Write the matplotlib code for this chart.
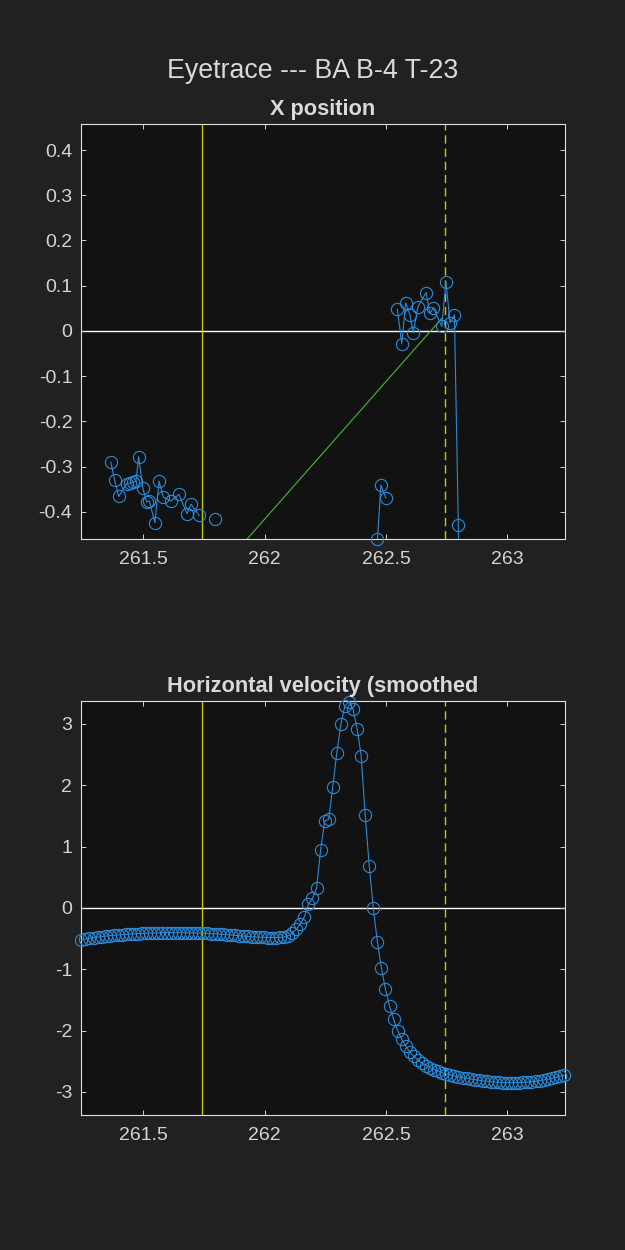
import numpy as np
import matplotlib
matplotlib.use("Agg")
import matplotlib.pyplot as plt

# --- data --------------------------------------------------------------
# X position (raw samples, NaN = gap in the trace)
pos_t = [261.366, 261.382, 261.399, 261.431, 261.445, 261.456, 261.470,
         261.481, 261.498, 261.514, 261.525, 261.548, 261.565, 261.582,
         261.615, 261.647, 261.680, 261.697, 261.730, np.nan, 261.797,
         np.nan, 262.465, 262.479, 262.499, np.nan,
         262.547, 262.565, 262.581, 262.599, 262.612, 262.632, 262.665,
         262.681, 262.695, 262.730, 262.747, 262.764, 262.782, 262.798,
         262.815]
pos_x = [-0.290, -0.329, -0.366, -0.338, -0.336, -0.335, -0.332,
         -0.278, -0.347, -0.378, -0.376, -0.424, -0.332, -0.367,
         -0.376, -0.361, -0.404, -0.383, -0.408, np.nan, -0.415,
         np.nan, -0.460, -0.341, -0.369, np.nan,
         0.048, -0.028, 0.062, 0.035, -0.005, 0.054, 0.085,
         0.039, 0.051, 0.010, 0.109, 0.018, 0.035, -0.428,
         -1.10]

# green fit line (two end points)
fit_t = [261.90, 262.730]
fit_x = [-0.477, 0.028]

# smoothed horizontal velocity, 60 Hz samples
vel = [-0.520, -0.505, -0.493, -0.483, -0.474, -0.466, -0.459, -0.452,
       -0.446, -0.440, -0.435, -0.430, -0.425, -0.421, -0.417, -0.414,
       -0.411, -0.409, -0.407, -0.405, -0.404, -0.403, -0.403, -0.403,
       -0.403, -0.404, -0.405, -0.406, -0.408, -0.410, -0.412, -0.415,
       -0.418, -0.422, -0.426, -0.431, -0.436, -0.441, -0.447, -0.453,
       -0.458, -0.463, -0.468, -0.472, -0.476, -0.479, -0.481, -0.482,
       -0.482, -0.480, -0.473, -0.452, -0.410, -0.345, -0.262, -0.145,
       0.062, 0.158, 0.321, 0.941, 1.419, 1.446, 1.978, 2.532,
       2.995, 3.299, 3.360, 3.240, 2.923, 2.483, 1.511, 0.685,
       -0.005, -0.549, -0.983, -1.326, -1.598, -1.815, -2.000, -2.141,
       -2.250, -2.348, -2.420, -2.480, -2.530, -2.570, -2.605, -2.635,
       -2.660, -2.685, -2.705, -2.722, -2.738, -2.752, -2.765, -2.777,
       -2.788, -2.798, -2.808, -2.817, -2.825, -2.832, -2.838, -2.843,
       -2.846, -2.848, -2.849, -2.848, -2.846, -2.843, -2.838, -2.832,
       -2.825, -2.816, -2.805, -2.792, -2.778, -2.762, -2.744, -2.724]
vel_t0, vel_t1 = 261.245, 263.233

event_on = 261.743    # solid yellow
event_off = 262.743   # dashed yellow

x_ticks = [261.5, 262, 262.5, 263]
x_ticklabels = ["261.5", "262", "262.5", "263"]
pos_ticks = [0.4, 0.3, 0.2, 0.1, 0, -0.1, -0.2, -0.3, -0.4]
pos_ticklabels = ["0.4", "0.3", "0.2", "0.1", "0", "-0.1", "-0.2", "-0.3", "-0.4"]
vel_ticks = [3, 2, 1, 0, -1, -2, -3]
vel_ticklabels = ["3", "2", "1", "0", "-1", "-2", "-3"]

# --- style -------------------------------------------------------------
plt.rcParams['font.family'] = ['Liberation Sans', 'DejaVu Sans']
FIG_BG = '#212121'
AX_BG = '#121212'
FG = '#d4d4d4'
BLUE = '#2b8ad8'
YELLOW = '#c8c800'
GREEN = '#45b835'

fig = plt.figure(figsize=(6.25, 12.5), dpi=100, facecolor=FIG_BG)
ax1 = fig.add_axes([0.129, 0.5688, 0.7744, 0.3318])
ax2 = fig.add_axes([0.129, 0.108, 0.7744, 0.3312])

xlim = (261.242, 263.236)


def style_axes(ax, yticks, ylabels):
    ax.set_facecolor(AX_BG)
    ax.set_xlim(xlim)
    ax.set_xticks(x_ticks)
    ax.set_xticklabels(x_ticklabels)
    ax.set_yticks(yticks)
    ax.set_yticklabels(ylabels)
    ax.tick_params(direction='in', length=3.5, width=0.7, colors=FG,
                   labelsize=14, top=True, right=True)
    ax.tick_params(axis='x', pad=9)
    ax.tick_params(axis='y', pad=6)
    for s in ax.spines.values():
        s.set_color('#e0e0e0')
        s.set_linewidth(0.8)


# X position
style_axes(ax1, pos_ticks, pos_ticklabels)
ax1.set_ylim(-0.46, 0.457)
ax1.axhline(0, color='white', lw=1.0, zorder=1)
ax1.axvline(event_on, color=YELLOW, lw=1.0, zorder=2)
ax1.axvline(event_off, color=YELLOW, lw=1.0, dashes=(6, 3.5), zorder=2)
ax1.plot(fit_t, fit_x, color=GREEN, lw=0.8, zorder=3)
ax1.plot(pos_t, pos_x, '-', color=BLUE, lw=0.8, zorder=4)
pt = np.array(pos_t)
px = np.array(pos_x)
inside = ~np.isnan(px) & (px >= -0.461) & (px <= 0.457)
ax1.plot(pt[inside], px[inside], 'o', ms=8.8, mfc='none', mec=BLUE,
         mew=0.8, zorder=5, clip_on=False)

# Horizontal velocity
vt = np.linspace(vel_t0, vel_t1, len(vel))
style_axes(ax2, vel_ticks, vel_ticklabels)
ax2.set_ylim(-3.375, 3.375)
ax2.axhline(0, color='white', lw=1.0, zorder=1)
ax2.axvline(event_on, color=YELLOW, lw=1.0, zorder=2)
ax2.axvline(event_off, color=YELLOW, lw=1.0, dashes=(6, 3.5), zorder=2)
ax2.plot(vt, vel, '-o', color=BLUE, lw=0.8, ms=8.8, mfc='none',
         mec=BLUE, mew=0.8, zorder=4, clip_on=False)

# titles
fig.text(0.5, 1 - 77.5 / 1250, "Eyetrace --- BA B-4 T-23", ha='center',
         va='baseline', fontsize=19.3, color='#d9d9d9')
fig.text(0.516, 1 - 115.5 / 1250, "X position", ha='center', va='baseline',
         fontsize=15.7, fontweight='bold', color='#d9d9d9')
fig.text(0.516, 1 - 692 / 1250, "Horizontal velocity (smoothed", ha='center',
         va='baseline', fontsize=15.7, fontweight='bold', color='#d9d9d9')

fig.savefig('out.png', dpi=100, facecolor=FIG_BG)
plt.close(fig)
